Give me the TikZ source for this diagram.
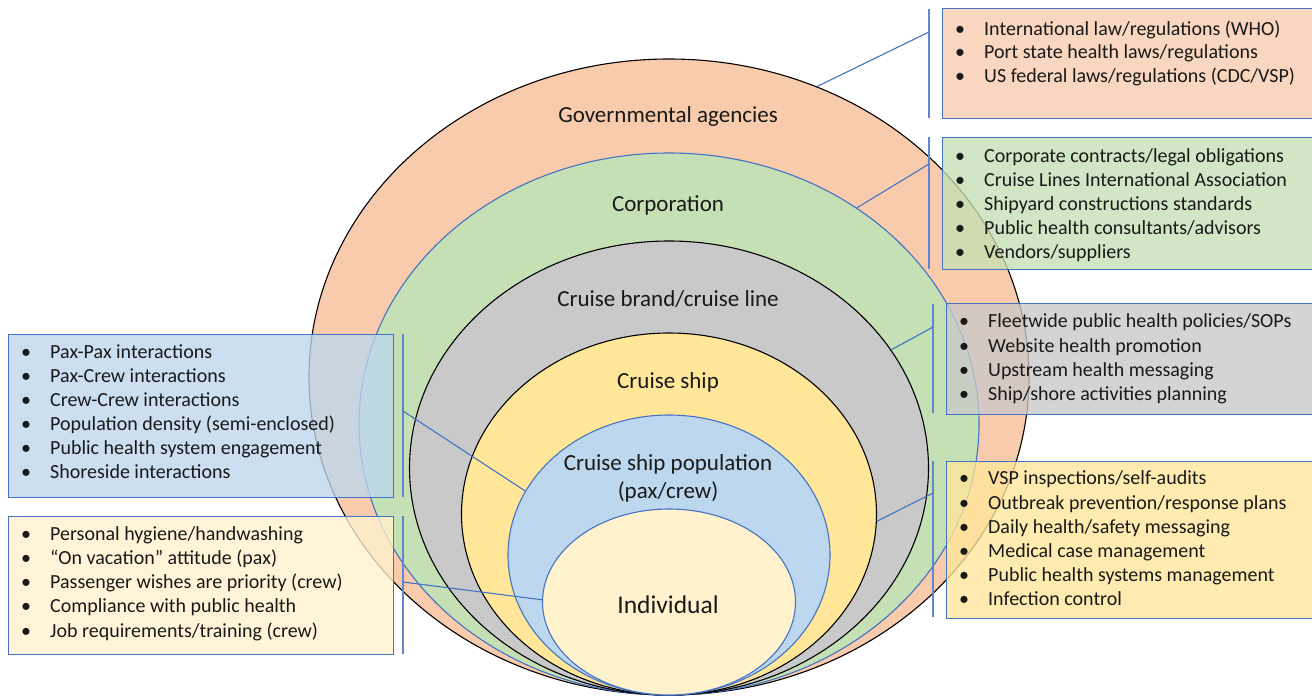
\documentclass[tikz,border=0pt]{standalone}
\usepackage{fontspec}
\setmainfont{Carlito}
\usetikzlibrary{shapes.geometric}

\definecolor{govF}{HTML}{F8CBAD}
\definecolor{corpF}{HTML}{C5E0B4}
\definecolor{brandF}{HTML}{C9C9C9}
\definecolor{shipF}{HTML}{FFE699}
\definecolor{popF}{HTML}{BDD7EE}
\definecolor{indF}{HTML}{FFF2CC}
\definecolor{edgeBlue}{HTML}{4472C4}

\tikzset{
  ring/.style={ellipse, inner sep=0pt, line width=1.1pt},
  ringlabel/.style={font=\fontsize{23}{28}\selectfont, text=black!90, inner sep=0pt},
  infobox/.style={rectangle, draw=edgeBlue, line width=1.4pt, fill opacity=0.78, inner sep=0pt, anchor=north west},
  item/.style={font=\fontsize{20}{24}\selectfont, text=black!90, anchor=mid west, inner sep=0pt},
  link/.style={draw=edgeBlue, line width=1.1pt},
  bar/.style={draw=edgeBlue!85, line width=1.6pt}
}

\newcommand{\bul}[1]{\makebox[29pt][l]{\textbullet}#1}

\begin{document}
\begin{tikzpicture}[x=1pt, y=-1pt]
\useasboundingbox (0,0) rectangle (1312,697);
\fill[white] (0,0) rectangle (1312,697);

% nested spheres of influence, all touching at the bottom
\node[ring, draw=black,    fill=govF,   minimum width=720pt, minimum height=636pt] (gov)   at (669,377) {};
\node[ring, draw=edgeBlue, fill=corpF,  minimum width=620pt, minimum height=542pt] (corp)  at (669,424) {};
\node[ring, draw=black,    fill=brandF, minimum width=519pt, minimum height=454pt] (brand) at (669,468) {};
\node[ring, draw=black,    fill=shipF,  minimum width=415pt, minimum height=362pt] (ship)  at (669,514) {};
\node[ring, draw=edgeBlue, fill=popF,   minimum width=322pt, minimum height=280pt] (pop)   at (669,555) {};
\node[ring, draw=edgeBlue, fill=indF,   minimum width=253pt, minimum height=186pt] (ind)   at (669,602) {};

% ring labels
\node[ringlabel] (lgov)   at (668,116.5) {Governmental agencies};
\node[ringlabel] (lcorp)  at (668,205.5) {Corporation};
\node[ringlabel] (lbrand) at (668,298.5) {Cruise brand/cruise line};
\node[ringlabel] (lship)  at (668,382.5) {Cruise ship};
\node[ringlabel, align=center] (lpop) at (668,478) {Cruise ship population\\(pax/crew)};
\node[ringlabel, font=\fontsize{25.5}{28}\selectfont] (lind) at (668,605) {Individual};

% brackets beside the lists
\coordinate (bgT) at (929,9);   \coordinate (bgB) at (929,118);
\coordinate (bcT) at (929,137); \coordinate (bcB) at (929,269);
\coordinate (bbT) at (933,304); \coordinate (bbB) at (933,413);
\coordinate (bsT) at (933,461); \coordinate (bsB) at (933,617);
\coordinate (bpT) at (403,334); \coordinate (bpB) at (403,497);
\coordinate (biT) at (403,516); \coordinate (biB) at (403,654);
\foreach \a/\b in {bgT/bgB, bcT/bcB, bbT/bbB, bsT/bsB, bpT/bpB, biT/biB}
  \draw[bar] (\a) -- (\b);

% connectors from each ring to its bracket
\coordinate (kg) at (929,32);
\coordinate (kc) at (929,164);
\coordinate (kb) at (933,327);
\coordinate (ks) at (933,493);
\coordinate (kp) at (403,411);
\coordinate (ki) at (403,582);
\draw[link] (gov.63)    -- (kg);
\draw[link] (corp.49)   -- (kc);
\draw[link] (brand.28)  -- (kb);
\draw[link] (ship.-2)   -- (ks);
\draw[link] (pop.156)   -- (kp);
\draw[link] (ind.179)   -- (ki);

% list boxes
\node[infobox, fill=govF,   minimum width=380pt, minimum height=110pt] (xgov)   at (942,8)   {};
\node[infobox, fill=corpF,  minimum width=380pt, minimum height=132pt] (xcorp)  at (942,137) {};
\node[infobox, fill=brandF, minimum width=376pt, minimum height=111pt] (xbrand) at (946,303) {};
\node[infobox, fill=shipF,  minimum width=376pt, minimum height=157pt] (xship)  at (946,461) {};
\node[infobox, fill=popF,   minimum width=385pt, minimum height=163pt] (xpop)   at (8,334)   {};
\node[infobox, fill=indF,   minimum width=385pt, minimum height=138pt] (xind)   at (8,516)   {};

% list items
\foreach \t [count=\i] in {{International law/regulations (WHO)},{Port state health laws/regulations},{US federal laws/regulations (CDC/VSP)}}
  \node[item] (tg\i) at (955, 33+23.5*\i-23.5) {\bul{\t}};
\foreach \t [count=\i] in {{Corporate contracts/legal obligations},{Cruise Lines International Association},{Shipyard constructions standards},{Public health consultants/advisors},{Vendors/suppliers}}
  \node[item] (tc\i) at (955, 160+24*\i-24) {\bul{\t}};
\foreach \t [count=\i] in {{Fleetwide public health policies/SOPs},{Website health promotion},{Upstream health messaging},{Ship/shore activities planning}}
  \node[item] (tb\i) at (959, 325.5+24.3*\i-24.3) {\bul{\t}};
\foreach \t [count=\i] in {{VSP inspections/self-audits},{Outbreak prevention/response plans},{Daily health/safety messaging},{Medical case management},{Public health systems management},{Infection control}}
  \node[item] (ts\i) at (959, 482.5+24.2*\i-24.2) {\bul{\t}};
\foreach \t [count=\i] in {{Pax-Pax interactions},{Pax-Crew interactions},{Crew-Crew interactions},{Population density (semi-enclosed)},{Public health system engagement},{Shoreside interactions}}
  \node[item] (tp\i) at (21, 356+24*\i-24) {\bul{\t}};
\foreach \t [count=\i] in {{Personal hygiene/handwashing},{“On vacation” attitude (pax)},{Passenger wishes are priority (crew)},{Compliance with public health},{Job requirements/training (crew)}}
  \node[item] (ti\i) at (21, 538+24.2*\i-24.2) {\bul{\t}};
\end{tikzpicture}
\end{document}
